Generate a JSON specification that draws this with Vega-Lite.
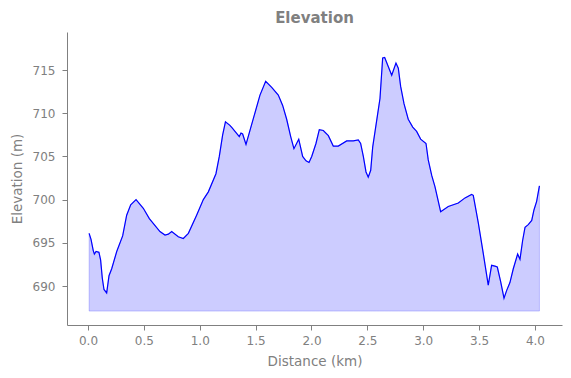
{
  "$schema": "https://vega.github.io/schema/vega-lite/v6.json",
  "autosize": "none",
  "width": 495,
  "height": 293,
  "padding": {"left": 67, "top": 32, "right": 9, "bottom": 53},
  "background": "white",
  "config": {
    "view": {"stroke": null},
    "font": "DejaVu Sans",
    "axis": {
      "domainColor": "#808080",
      "tickColor": "#808080",
      "labelColor": "#808080",
      "titleColor": "#808080",
      "labelFont": "DejaVu Sans",
      "titleFont": "DejaVu Sans",
      "labelFontSize": 12,
      "titleFontSize": 13.5,
      "titleFontWeight": "normal",
      "tickSize": 5,
      "grid": false
    }
  },
  "title": {
    "text": "Elevation",
    "font": "DejaVu Sans",
    "fontSize": 15,
    "fontWeight": "bold",
    "color": "#808080",
    "offset": 6
  },
  "data": {
    "values": [
      {"d": 0.01, "e": 696.1},
      {"d": 0.027, "e": 695.4},
      {"d": 0.047, "e": 694.1},
      {"d": 0.057, "e": 693.7},
      {"d": 0.072, "e": 694.0},
      {"d": 0.098, "e": 693.9},
      {"d": 0.113, "e": 693.0},
      {"d": 0.128, "e": 690.9},
      {"d": 0.143, "e": 689.6},
      {"d": 0.167, "e": 689.2},
      {"d": 0.188, "e": 691.2},
      {"d": 0.212, "e": 692.0},
      {"d": 0.257, "e": 694.0},
      {"d": 0.31, "e": 695.8},
      {"d": 0.346, "e": 698.2},
      {"d": 0.382, "e": 699.4},
      {"d": 0.43, "e": 700.0},
      {"d": 0.495, "e": 699.0},
      {"d": 0.549, "e": 697.8},
      {"d": 0.644, "e": 696.3},
      {"d": 0.689, "e": 695.9},
      {"d": 0.719, "e": 696.0},
      {"d": 0.749, "e": 696.3},
      {"d": 0.808, "e": 695.7},
      {"d": 0.853, "e": 695.5},
      {"d": 0.898, "e": 696.1},
      {"d": 0.972, "e": 698.2},
      {"d": 1.032, "e": 700.0},
      {"d": 1.077, "e": 700.9},
      {"d": 1.145, "e": 703.0},
      {"d": 1.175, "e": 705.0},
      {"d": 1.205, "e": 707.5},
      {"d": 1.23, "e": 709.0},
      {"d": 1.27, "e": 708.6},
      {"d": 1.29, "e": 708.3},
      {"d": 1.354, "e": 707.3},
      {"d": 1.369, "e": 707.7},
      {"d": 1.384, "e": 707.6},
      {"d": 1.414, "e": 706.4},
      {"d": 1.48, "e": 709.4},
      {"d": 1.539, "e": 712.1},
      {"d": 1.59, "e": 713.7},
      {"d": 1.644, "e": 713.0},
      {"d": 1.703, "e": 712.1},
      {"d": 1.742, "e": 710.9},
      {"d": 1.778, "e": 709.3},
      {"d": 1.814, "e": 707.3},
      {"d": 1.843, "e": 705.9},
      {"d": 1.886, "e": 707.0},
      {"d": 1.921, "e": 705.0},
      {"d": 1.951, "e": 704.5},
      {"d": 1.978, "e": 704.3},
      {"d": 2.002, "e": 705.0},
      {"d": 2.04, "e": 706.5},
      {"d": 2.07, "e": 708.1},
      {"d": 2.106, "e": 708.0},
      {"d": 2.151, "e": 707.4},
      {"d": 2.195, "e": 706.2},
      {"d": 2.24, "e": 706.2},
      {"d": 2.315, "e": 706.8},
      {"d": 2.374, "e": 706.8},
      {"d": 2.419, "e": 706.9},
      {"d": 2.44, "e": 706.5},
      {"d": 2.464, "e": 705.0},
      {"d": 2.488, "e": 703.2},
      {"d": 2.508, "e": 702.6},
      {"d": 2.53, "e": 703.4},
      {"d": 2.548, "e": 706.1},
      {"d": 2.584, "e": 709.2},
      {"d": 2.613, "e": 711.7},
      {"d": 2.637, "e": 716.4},
      {"d": 2.655, "e": 716.45},
      {"d": 2.687, "e": 715.4},
      {"d": 2.718, "e": 714.4},
      {"d": 2.756, "e": 715.8},
      {"d": 2.777, "e": 715.2},
      {"d": 2.798, "e": 713.1},
      {"d": 2.828, "e": 711.1},
      {"d": 2.866, "e": 709.3},
      {"d": 2.906, "e": 708.4},
      {"d": 2.941, "e": 707.9},
      {"d": 2.977, "e": 707.0},
      {"d": 3.025, "e": 706.5},
      {"d": 3.045, "e": 704.6},
      {"d": 3.076, "e": 702.8},
      {"d": 3.105, "e": 701.5},
      {"d": 3.156, "e": 698.6},
      {"d": 3.224, "e": 699.2},
      {"d": 3.314, "e": 699.6},
      {"d": 3.374, "e": 700.2},
      {"d": 3.433, "e": 700.6},
      {"d": 3.448, "e": 700.5},
      {"d": 3.493, "e": 697.3},
      {"d": 3.537, "e": 693.8},
      {"d": 3.582, "e": 690.1},
      {"d": 3.612, "e": 692.4},
      {"d": 3.642, "e": 692.3},
      {"d": 3.663, "e": 692.2},
      {"d": 3.693, "e": 690.5},
      {"d": 3.723, "e": 688.6},
      {"d": 3.747, "e": 689.5},
      {"d": 3.776, "e": 690.4},
      {"d": 3.806, "e": 692.0},
      {"d": 3.845, "e": 693.7},
      {"d": 3.866, "e": 693.1},
      {"d": 3.89, "e": 695.3},
      {"d": 3.911, "e": 696.8},
      {"d": 3.94, "e": 697.1},
      {"d": 3.971, "e": 697.6},
      {"d": 3.991, "e": 698.8},
      {"d": 4.015, "e": 699.8},
      {"d": 4.04, "e": 701.6}
    ]
  },
  "encoding": {
    "x": {
      "field": "d",
      "type": "quantitative",
      "title": "Distance (km)",
      "scale": {"domain": [-0.188, 4.242], "nice": false, "zero": false},
      "axis": {"values": [0, 0.5, 1, 1.5, 2, 2.5, 3, 3.5, 4], "format": ".1f", "labelPadding": 5, "titlePadding": 8}
    },
    "y": {
      "field": "e",
      "type": "quantitative",
      "title": "Elevation (m)",
      "scale": {"domain": [685.49, 719.4], "nice": false, "zero": false},
      "axis": {"values": [690, 695, 700, 705, 710, 715], "labelPadding": 7, "titlePadding": 8}
    }
  },
  "layer": [
    {
      "mark": {"type": "area", "color": "blue", "fillOpacity": 0.2, "stroke": "blue", "strokeOpacity": 0.2, "strokeWidth": 1},
      "encoding": {"y2": {"datum": 687.1}}
    },
    {
      "mark": {"type": "line", "color": "blue", "strokeWidth": 1.2}
    }
  ]
}
